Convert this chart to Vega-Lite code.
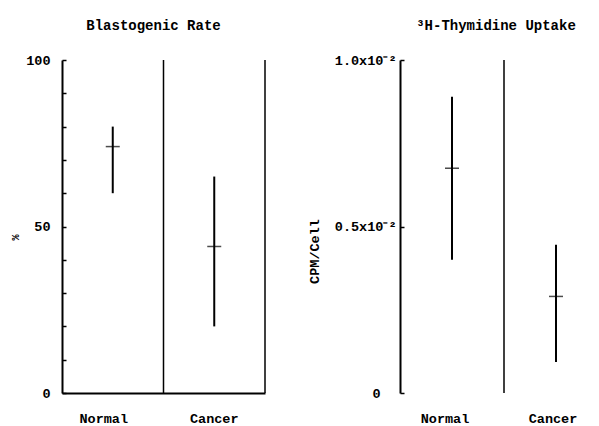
{
  "$schema": "https://vega.github.io/schema/vega-lite/v6.json",
  "padding": {"left": 10, "top": 19, "right": 0, "bottom": 0},
  "background": "white",
  "config": {
    "font": "Liberation Mono",
    "view": {"stroke": null},
    "axis": {"domainColor": "black", "tickColor": "black", "labelColor": "black", "titleColor": "black", "grid": false, "labelFont": "Liberation Mono", "titleFont": "Liberation Mono", "labelFontSize": 13.5, "labelFontWeight": "bold", "titleFontWeight": "bold", "labelOverlap": false, "tickWidth": 1.5},
    "title": {"font": "Liberation Mono", "fontSize": 14, "fontWeight": "bold", "color": "black"},
    "concat": {"spacing": 41}
  },
  "datasets": {
    "blasto": [
      {"group": "Normal", "mean": 74, "low": 60, "high": 80},
      {"group": "Cancer", "mean": 44, "low": 20, "high": 65}
    ],
    "thym": [
      {"group": "Normal", "mean": 0.675, "low": 0.4, "high": 0.89},
      {"group": "Cancer", "mean": 0.29, "low": 0.093, "high": 0.445}
    ]
  },
  "hconcat": [
    {
      "width": 203,
      "height": 333,
      "title": {"text": "Blastogenic Rate", "dx": -10, "offset": 20},
      "data": {"name": "blasto"},
      "encoding": {
        "x": {"field": "group", "type": "nominal", "sort": ["Normal", "Cancer"], "scale": {"paddingInner": 0, "paddingOuter": 0}, "axis": {"title": null, "labelAngle": 0, "ticks": false, "labelPadding": 18, "labelOffset": {"condition": {"test": "datum.value == 'Normal'", "value": -9}, "value": 0}, "domainWidth": 2}}
      },
      "layer": [
        {
          "mark": {"type": "rule", "strokeWidth": 2, "color": "black"},
          "encoding": {
            "y": {"field": "low", "type": "quantitative", "scale": {"domain": [0, 100]}, "axis": {"title": "%", "values": [0, 10, 20, 30, 40, 50, 60, 70, 80, 90, 100], "tickCount": 20, "labelExpr": "datum.value % 50 == 0 ? datum.label : ''", "tickSize": -4, "labelPadding": 16, "domainWidth": 2, "titleFontSize": 10, "titleX": -42, "titleY": 177}},
            "y2": {"field": "high"}
          }
        },
        {
          "mark": {"type": "tick", "orient": "horizontal", "size": 14, "thickness": 1.5, "color": "black"},
          "encoding": {"y": {"field": "mean", "type": "quantitative"}}
        },
        {
          "transform": [{"filter": "datum.group == 'Cancer'"}],
          "mark": {"type": "rule", "strokeWidth": 1.5, "color": "black"},
          "encoding": {"x": {"field": "group", "type": "nominal", "bandPosition": 0}}
        },
        {
          "transform": [{"filter": "datum.group == 'Cancer'"}],
          "mark": {"type": "rule", "strokeWidth": 1.5, "color": "black"},
          "encoding": {"x": {"field": "group", "type": "nominal", "bandPosition": 1}}
        }
      ]
    },
    {
      "width": 198,
      "height": 333,
      "title": {"text": "³H-Thymidine Uptake", "dx": -3, "offset": 20},
      "data": {"name": "thym"},
      "encoding": {
        "x": {"field": "group", "type": "nominal", "sort": ["Normal", "Cancer"], "scale": {"paddingInner": 0, "paddingOuter": 0, "range": [0, 208]}, "axis": {"title": null, "labelAngle": 0, "ticks": false, "labelPadding": 18, "labelOffset": {"condition": {"test": "datum.value == 'Normal'", "value": -7}, "value": -3}, "domain": false}}
      },
      "layer": [
        {
          "mark": {"type": "rule", "strokeWidth": 2, "color": "black"},
          "encoding": {
            "y": {"field": "low", "type": "quantitative", "scale": {"domain": [0, 1]}, "axis": {"title": "CPM/Cell", "values": [0, 0.5, 1], "labelExpr": "datum.value == 1 ? '1.0x10⁻²' : datum.value == 0.5 ? '0.5x10⁻²' : '0'", "tickSize": -4, "labelPadding": {"condition": {"test": "datum.value == 0", "value": 24}, "value": 8}, "domainWidth": 2, "titleFontSize": 13.5, "titleX": -79, "titleY": 191}},
            "y2": {"field": "high"}
          }
        },
        {
          "mark": {"type": "tick", "orient": "horizontal", "size": 14, "thickness": 1.5, "color": "black"},
          "encoding": {"y": {"field": "mean", "type": "quantitative"}}
        },
        {
          "transform": [{"filter": "datum.group == 'Cancer'"}],
          "mark": {"type": "rule", "strokeWidth": 1.5, "color": "black"},
          "encoding": {"x": {"field": "group", "type": "nominal", "bandPosition": 0}}
        },
        {
          "transform": [{"filter": "datum.group == 'Normal'"}],
          "mark": {"type": "rule", "strokeWidth": 1.5, "color": "black"},
          "encoding": {"y": {"datum": 0}}
        }
      ]
    }
  ]
}
